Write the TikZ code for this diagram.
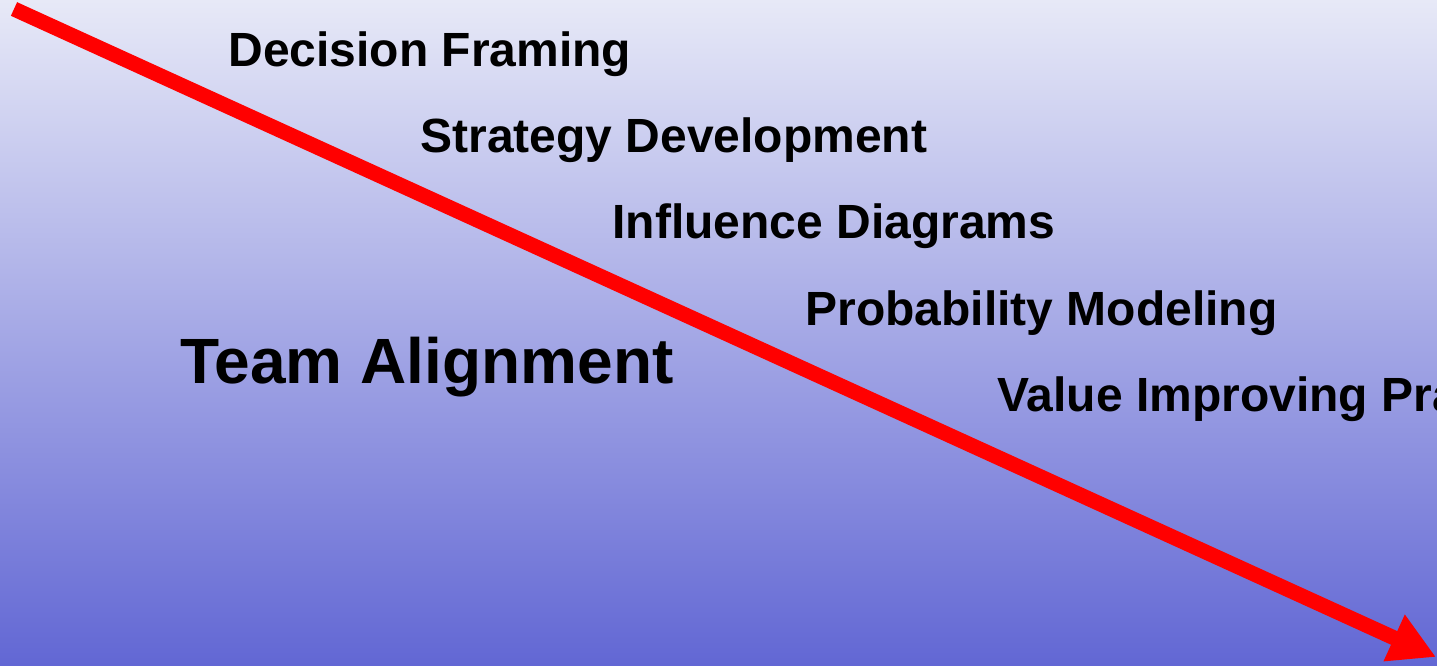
\documentclass[tikz,border=0pt]{standalone}
\usepackage{fontspec}
\setmainfont{Liberation Sans}
\usepackage{tikz}
\usetikzlibrary{arrows.meta}
\usepackage{xcolor}
\definecolor{bgtop}{RGB}{231,233,247}
\definecolor{bgbottom}{RGB}{98,103,212}

\begin{document}
\begin{tikzpicture}[x=0.5pt, y=-0.5pt,
    stage/.style={anchor=base west, inner sep=0pt, font=\bfseries\fontsize{24}{28}\selectfont},
    bigstage/.style={anchor=base west, inner sep=0pt, font=\bfseries\fontsize{32}{38}\selectfont}]
  \useasboundingbox (0,0) rectangle (1437,665);
  \clip (0,0) rectangle (1437,665);
  \shade [top color=bgtop, bottom color=bgbottom] (0,0) rectangle (1437,665);
  \node [stage] (framing) at (228,66) {Decision Framing};
  \node [stage] (strategy) at (420,152) {Strategy Development};
  \node [stage] (influence) at (612,238) {Influence Diagrams};
  \node [stage] (probability) at (805,325) {Probability Modeling};
  \node [stage] (vip) at (997,411) {Value Improving Practices};
  \node [bigstage] (team) at (180,383) {Team Alignment};
  \coordinate (start) at (14,9);
  \coordinate (tip) at (1436,657);
  \draw [red, line width=7.5pt, -{Triangle[length=23pt, width=24pt]}] (start) -- (tip);
\end{tikzpicture}
\end{document}
